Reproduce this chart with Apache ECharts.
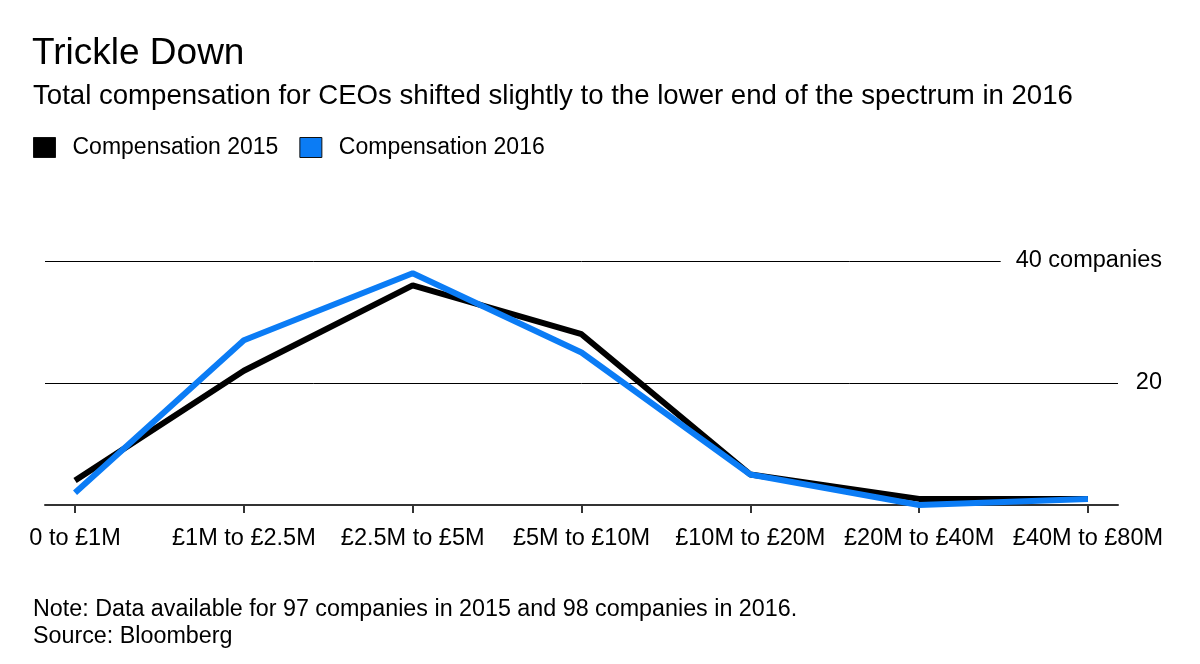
<!DOCTYPE html>
<html><head><meta charset="utf-8">
<script src="https://cdn.jsdelivr.net/npm/echarts@6/dist/echarts.min.js"></script>
<style>html,body{margin:0;padding:0;background:#fff}#c{width:1200px;height:664px}</style>
</head><body><div id="c"></div>
<script>
const categories = ['0 to £1M','£1M to £2.5M','£2.5M to £5M','£5M to £10M','£10M to £20M','£20M to £40M','£40M to £80M'];
const comp2015 = [4, 22, 36, 28, 5, 1, 1];
const comp2016 = [2, 27, 38, 25, 5, 0, 1];
const yTicks = [0, 20, 40];
const FONT = 'Liberation Sans, Arial, sans-serif';
const chart = echarts.init(document.getElementById('c'));
const idx = categories.map((_, i) => i);
chart.setOption({
  animation: false,
  backgroundColor: '#fff',
  textStyle: { fontFamily: FONT },
  title: [
    { text: 'Trickle Down', left: 27, top: 30, textStyle: { fontSize: 37, fontWeight: 'normal', color: '#000', fontFamily: FONT } },
    { text: 'Total compensation for CEOs shifted slightly to the lower end of the spectrum in 2016', left: 28, top: 77, textStyle: { fontSize: 27.6, fontWeight: 'normal', color: '#000', fontFamily: FONT } },
    { text: 'Note: Data available for 97 companies in 2015 and 98 companies in 2016.\nSource: Bloomberg', left: 28, top: 591, textStyle: { fontSize: 23.3, lineHeight: 27, fontWeight: 'normal', color: '#000', fontFamily: FONT } }
  ],
  legend: {
    left: 28, top: 131, icon: 'rect', itemWidth: 22, itemHeight: 20, itemGap: 21,
    itemStyle: { borderColor: '#111', borderWidth: 1 },
    textStyle: { fontSize: 23, color: '#000', padding: [0, 0, 0, 12], fontFamily: FONT },
    data: ['Compensation 2015', 'Compensation 2016']
  },
  grid: { left: 45, right: 82, top: 261, bottom: 159, containLabel: false },
  xAxis: {
    type: 'value', min: -0.178, max: 6.178,
    splitLine: { show: false },
    axisLine: { show: true, lineStyle: { color: '#333', width: 2 } },
    axisTick: { show: true, length: 8, customValues: idx, lineStyle: { color: '#333', width: 2 } },
    axisLabel: { customValues: idx, margin: 22, fontSize: 23.5, color: '#000', fontFamily: FONT,
      formatter: v => categories[Math.round(v)] }
  },
  yAxis: {
    type: 'value', position: 'right', min: 0, max: 40, interval: 20,
    axisLine: { show: false }, axisTick: { show: false },
    splitLine: { show: true, lineStyle: { color: '#000', width: 1 } },
    axisLabel: { showMinLabel: false, align: 'right', margin: 44, fontSize: 23.5, color: '#000', fontFamily: FONT,
      backgroundColor: '#fff', padding: [3, 0, 3, 15],
      formatter: v => v === 40 ? '40 companies' : (v === 0 ? '' : String(v)) }
  },
  series: [
    { name: 'Compensation 2015', type: 'line', symbol: 'none', data: comp2015.map((v, i) => [i, v]),
      itemStyle: { color: '#000' }, lineStyle: { color: '#000', width: 6 }, z: 2 },
    { name: 'Compensation 2016', type: 'line', symbol: 'none', data: comp2016.map((v, i) => [i, v]),
      itemStyle: { color: '#0b7cf5' }, lineStyle: { color: '#0b7cf5', width: 6 }, z: 3 }
  ]
});
</script></body></html>
